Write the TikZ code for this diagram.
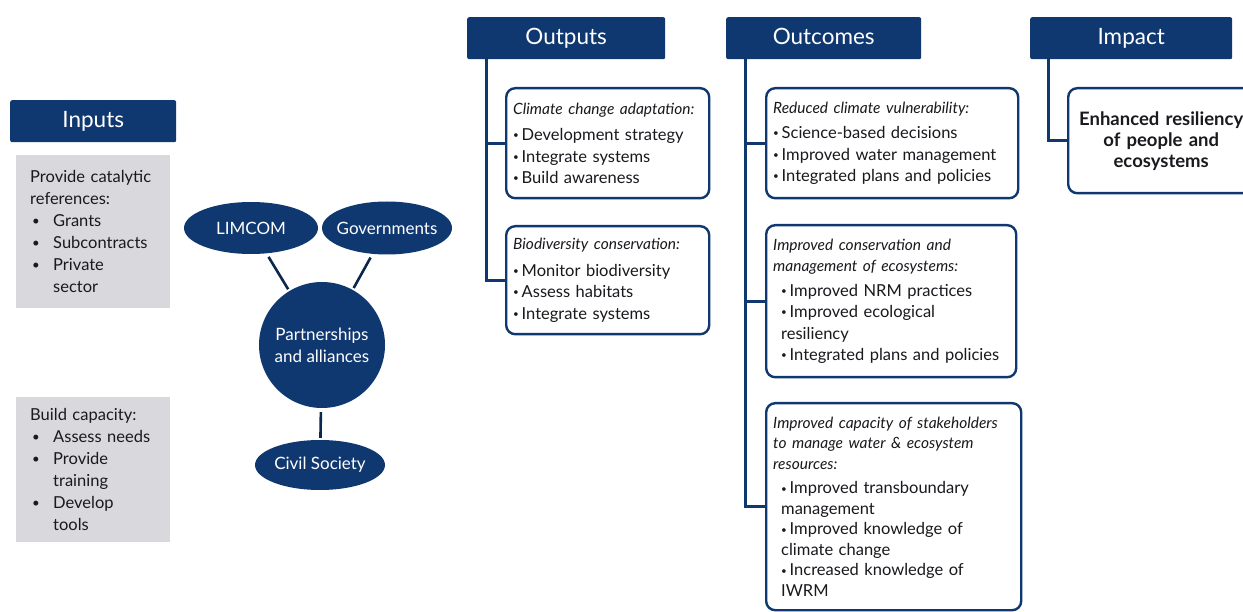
\documentclass[tikz,border=0pt]{standalone}
\usepackage{fontspec}
\setmainfont{Lato}
\usepackage{tikz}
\usetikzlibrary{positioning,shapes.geometric}
\usepackage{xcolor}

\definecolor{navy}{RGB}{16,56,112}
\definecolor{panelgray}{RGB}{216,216,221}
\definecolor{inktext}{RGB}{25,25,30}

\newcommand{\itemgap}{\hspace*{8pt}}
\newcommand{\dotmark}{\raisebox{0.22ex}{\scalebox{0.6}{•}}\,}
\newcommand{\listitem}[1]{\makebox[23pt][l]{\hspace{2pt}\raisebox{0.1ex}{\scalebox{0.8}{•}}}#1}
\newcommand{\boxtitle}[1]{{\fontsize{15.5}{21}\selectfont\itshape #1}}

\begin{document}
\begin{tikzpicture}[x=1pt, y=-1pt,
  header/.style={
    fill=navy, text=white, rounded corners=2pt, anchor=north west,
    minimum height=42pt, inner sep=0pt, text height=16pt, text depth=3pt,
    font=\fontsize{22.5}{26}\selectfont
  },
  panel/.style={
    fill=panelgray, anchor=north west, align=left,
    inner xsep=14pt, inner ysep=0pt, text width=126pt,
    text=inktext, font=\fontsize{16.5}{22}\selectfont
  },
  result/.style={
    draw=navy, line width=2.4pt, rounded corners=9pt, fill=white,
    anchor=north west, align=left, inner xsep=7pt, inner ysep=0pt,
    text=inktext, font=\fontsize{16.5}{21.5}\selectfont
  },
  party/.style={
    ellipse, fill=navy, inner sep=0pt,
    label={[text=white, align=center, font=\fontsize{17}{22}\selectfont]center:#1}
  },
  link/.style={line width=2.6pt, draw=navy!70!black, shorten <=4pt, shorten >=2pt},
  trunk/.style={line width=3pt, draw=navy}
]

\clip (0,0) rectangle (1243,612);
\fill[white] (0,0) rectangle (1243,612);

% --- Inputs ---
\node[header, minimum width=166pt] (inputs) at (10,100) {Inputs};

\node[panel, minimum height=153pt] (catalytic) at (16,155) {
  Provide catalytic\\
  references:\\
  \listitem{Grants}\\
  \listitem{Subcontracts}\\
  \listitem{Private}\\
  \hspace*{23pt}sector
};

\node[panel, minimum height=145pt] (capacity) at (16,397) {
  Build capacity:\\
  \listitem{Assess needs}\\
  \listitem{Provide}\\
  \hspace*{23pt}training\\
  \listitem{Develop}\\
  \hspace*{23pt}tools
};

% --- Partnerships ---
\node[party=LIMCOM, minimum width=134pt, minimum height=52pt] (limcom) at (251,228) {};
\node[party=Governments, minimum width=130pt, minimum height=53pt] (govts) at (387,228) {};
\node[party={Partnerships\\and alliances}, circle, minimum size=126pt] (hub) at (322,345) {};
\node[party=Civil Society, minimum width=130pt, minimum height=50pt] (civil) at (320,465) {};

\draw[link] (limcom) -- (hub);
\draw[link] (govts) -- (hub);
\draw[link] (hub) -- (civil);

% --- Outputs ---
\node[header, minimum width=198pt] (outputs) at (467,17) {Outputs};

\node[result, minimum width=203pt, minimum height=110pt, text width=189pt] (climate) at (505,87) {
  \boxtitle{Climate change adaptation:}\\[5pt]
  \dotmark Development strategy\\
  \dotmark Integrate systems\\
  \dotmark Build awareness
};

\node[result, minimum width=203pt, minimum height=108pt, text width=189pt] (biodiv) at (505,225) {
  \boxtitle{Biodiversity conservation:}\\[5pt]
  \dotmark Monitor biodiversity\\
  \dotmark Assess habitats\\
  \dotmark Integrate systems
};

\draw[trunk] ([xshift=19pt]outputs.south west) |- (climate.west);
\draw[trunk] ([xshift=19pt]outputs.south west) |- (biodiv.west);

% --- Outcomes ---
\node[header, minimum width=195pt] (outcomes) at (726,17) {Outcomes};

\node[result, minimum width=252pt, minimum height=110pt, text width=238pt] (vulner) at (765,87) {
  \boxtitle{Reduced climate vulnerability:}\\[4pt]
  \dotmark Science-based decisions\\
  \dotmark Improved water management\\
  \dotmark Integrated plans and policies
};

\node[result, minimum width=250pt, minimum height=152pt, text width=236pt] (conserv) at (765,224) {
  \boxtitle{Improved conservation and}\\
  \boxtitle{management of ecosystems:}\\[3pt]
  \itemgap\dotmark Improved NRM practices\\
  \itemgap\dotmark Improved ecological\\
  \itemgap resiliency\\
  \itemgap\dotmark Integrated plans and policies
};

\node[result, minimum width=255pt, minimum height=207pt, text width=241pt,
  font=\fontsize{16.5}{20.5}\selectfont] (stake) at (765,402) {
  \boxtitle{Improved capacity of stakeholders}\\
  \boxtitle{to manage water \& ecosystem}\\
  \boxtitle{resources:}\\[4pt]
  \itemgap\dotmark Improved transboundary\\
  \itemgap management\\
  \itemgap\dotmark Improved knowledge of\\
  \itemgap climate change\\
  \itemgap\dotmark Increased knowledge of\\
  \itemgap IWRM
};

\draw[trunk] ([xshift=19pt]outcomes.south west) |- (vulner.west);
\draw[trunk] ([xshift=19pt]outcomes.south west) |- (conserv.west);
\draw[trunk] ([xshift=19pt]outcomes.south west) |- (stake.west);

% --- Impact ---
\node[header, minimum width=202pt] (impact) at (1030,17) {Impact};

\node[result, minimum width=186pt, minimum height=105pt, text width=172pt,
  align=center, font=\fontsize{18.5}{21}\selectfont\bfseries] (resil) at (1067,87) {
  Enhanced resiliency\\
  of people and\\
  ecosystems
};

\draw[trunk] ([xshift=18pt]impact.south west) |- (resil.west);

\end{tikzpicture}
\end{document}
